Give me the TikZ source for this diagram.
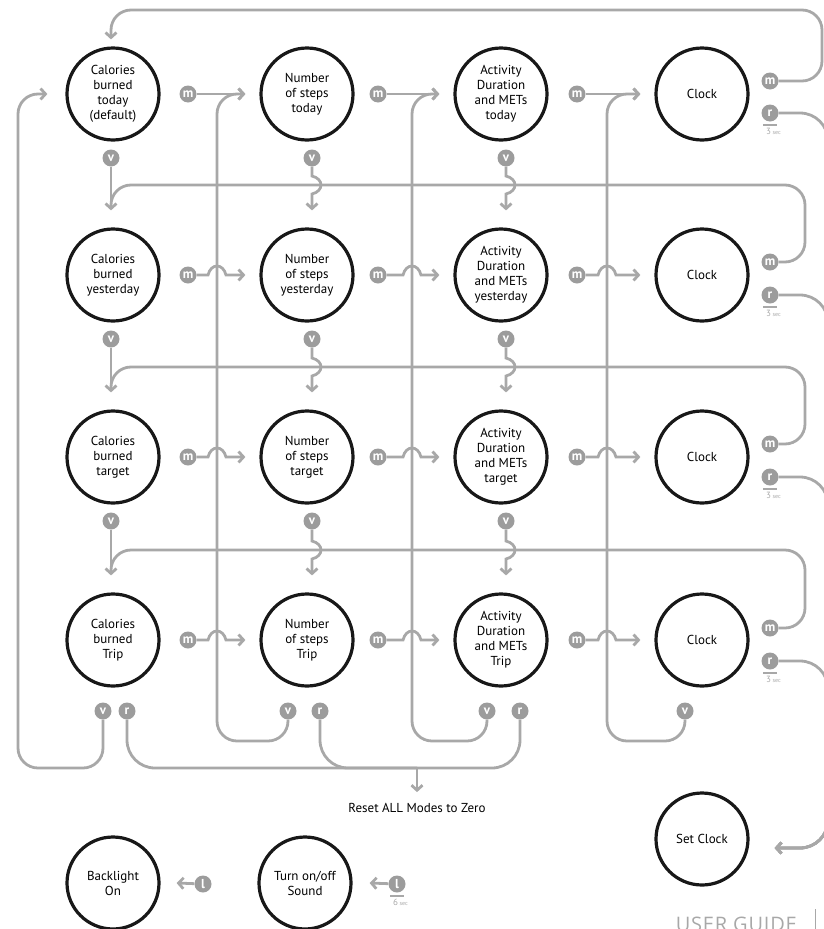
\documentclass[tikz,border=0pt]{standalone}
\usepackage{fontspec}
\setmainfont{PT Sans}
\newfontfamily\guidefont[LetterSpace=4]{Open Sans}
\usetikzlibrary{arrows.meta, positioning, calc}
\definecolor{cLine}{RGB}{168,168,168}
\definecolor{cBadge}{RGB}{156,156,156}
\definecolor{cRing}{RGB}{24,24,24}
\tikzset{
	mode/.style     ={circle, draw=cRing, line width=3.2pt, minimum size=92pt, inner sep=0pt, align=center, font=\fontsize{13}{15}\selectfont},
	badge/.style    ={circle, fill=cBadge, minimum size=17pt, inner sep=0pt, text=white, font=\fontsize{13}{13}\selectfont\bfseries},
	link/.style     ={draw=cLine, line width=2.8pt, rounded corners=20pt},
	linkarrow/.style={link, -{Straight Barb[length=5pt, width=11pt]}},
	rowarrow/.style ={draw=cLine, line width=2.8pt, -{Straight Barb[length=5pt, width=11pt]}},
	timer/.style    ={text=cLine, inner sep=0pt, font=\fontsize{9}{9}\selectfont},
	timerbar/.style ={draw=cLine, line width=1.2pt},
	hhop/.style     ={insert path={-- ($(#1)+(-9,0)$) .. controls ($(#1)+(-6,-12)$) and ($(#1)+(6,-12)$) .. ($(#1)+(9,0)$)}},
	vhop/.style     ={insert path={-- ($(#1)+(0,-9)$) .. controls ($(#1)+(12,-6)$) and ($(#1)+(12,6)$) .. ($(#1)+(0,9)$)}},
}
\begin{document}
\begin{tikzpicture}[x=1pt, y=-1pt]
	\useasboundingbox (0,0) rectangle (824,929);
	\clip (0,0) rectangle (824,929);
	\coordinate (lane0) at (18,0); \coordinate (lane1) at (217,0); \coordinate (lane2) at (412,0); \coordinate (lane3) at (607,0);
	\coordinate (topbus) at (0,10); \coordinate (ret2) at (0,185); \coordinate (ret3) at (0,367); \coordinate (ret4) at (0,550);
	\coordinate (loopbus) at (0,741); \coordinate (resetbus) at (417,768);
	\coordinate (mbus) at (805,0); \coordinate (mbustop) at (822,0); \coordinate (setbus) at (828,0);
	% modes
	\node[mode] (cal1)   at (113,94)  {Calories\\burned\\today\\(default)};
	\node[mode] (steps1) at (307,94)  {Number\\of steps\\today};
	\node[mode] (act1)   at (501,94)  {Activity\\Duration\\and METs\\today};
	\node[mode] (clock1) at (702,94)  {Clock};
	\node[mode] (cal2)   at (113,275) {Calories\\burned\\yesterday};
	\node[mode] (steps2) at (307,275) {Number\\of steps\\yesterday};
	\node[mode] (act2)   at (501,275) {Activity\\Duration\\and METs\\yesterday};
	\node[mode] (clock2) at (702,275) {Clock};
	\node[mode] (cal3)   at (113,457) {Calories\\burned\\target};
	\node[mode] (steps3) at (307,457) {Number\\of steps\\target};
	\node[mode] (act3)   at (501,457) {Activity\\Duration\\and METs\\target};
	\node[mode] (clock3) at (702,457) {Clock};
	\node[mode] (cal4)   at (113,640) {Calories\\burned\\Trip};
	\node[mode] (steps4) at (307,640) {Number\\of steps\\Trip};
	\node[mode] (act4)   at (501,640) {Activity\\Duration\\and METs\\Trip};
	\node[mode] (clock4) at (702,640) {Clock};
	\node[mode] (setclock)  at (702,839) {Set Clock};
	\node[mode] (backlight) at (113,883) {Backlight\\On};
	\node[mode] (sound)     at (305,883) {Turn on/off\\Sound};
	\node[inner sep=0pt, font=\fontsize{13}{15}\selectfont] (reset) at (417,808) {Reset ALL Modes to Zero};
	\coordinate (setin) at ([xshift=25pt, yshift=-9pt]setclock.east);
	% buttons
	\node[badge] (mcal1) at (188,94) {m}; \node[badge] (msteps1) at (378,94) {m}; \node[badge] (mact1) at (577,94) {m};
	\node[badge] (mcal2) at (188,275) {m}; \node[badge] (msteps2) at (378,275) {m}; \node[badge] (mact2) at (577,275) {m};
	\node[badge] (mcal3) at (188,457) {m}; \node[badge] (msteps3) at (378,457) {m}; \node[badge] (mact3) at (577,457) {m};
	\node[badge] (mcal4) at (188,640) {m}; \node[badge] (msteps4) at (378,640) {m}; \node[badge] (mact4) at (577,640) {m};
	\node[badge] (mclock1) at (770,81) {m};  \node[badge] (rclock1) at (770,113) {r};
	\node[badge] (mclock2) at (770,262) {m}; \node[badge] (rclock2) at (770,295) {r};
	\node[badge] (mclock3) at (770,444) {m}; \node[badge] (rclock3) at (770,477) {r};
	\node[badge] (mclock4) at (770,628) {m}; \node[badge] (rclock4) at (770,661) {r};
	\node[badge] (vcal1) at (111,158) {v}; \node[badge] (vsteps1) at (312,158) {v}; \node[badge] (vact1) at (506,158) {v};
	\node[badge] (vcal2) at (111,339) {v}; \node[badge] (vsteps2) at (312,339) {v}; \node[badge] (vact2) at (506,339) {v};
	\node[badge] (vcal3) at (111,521) {v}; \node[badge] (vsteps3) at (312,521) {v}; \node[badge] (vact3) at (506,521) {v};
	\node[badge] (vcal4) at (103,711) {v}; \node[badge] (rcal4) at (127,711) {r};
	\node[badge] (vsteps4) at (288,711) {v}; \node[badge] (rsteps4) at (320,711) {r};
	\node[badge] (vact4) at (487,711) {v}; \node[badge] (ract4) at (520,711) {r};
	\node[badge] (vclock4) at (685,711) {v};
	\node[badge] (lback) at (203,884) {l}; \node[badge] (lsound) at (397,884) {l};
	% hold times
	\foreach \k in {1,2,3,4} {
		\draw[timerbar] ([xshift=-7pt, yshift=-12pt]rclock\k.center) -- ++(14,0);
		\node[timer, anchor=north west] (t\k) at ([xshift=-4pt, yshift=-14.5pt]rclock\k.center) {3\,{\fontsize{6}{6}\selectfont sec}};
	}
	\draw[timerbar] ([xshift=-7pt, yshift=-12pt]lsound.center) -- ++(14,0);
	\node[timer, anchor=north west] (t6) at ([xshift=-4pt, yshift=-14.5pt]lsound.center) {6\,{\fontsize{6}{6}\selectfont sec}};
	% m: next mode
	\draw[rowarrow] (mcal1) -- ([xshift=-14pt]steps1.west); \draw[rowarrow] (msteps1) -- ([xshift=-14pt]act1.west); \draw[rowarrow] (mact1) -- ([xshift=-14pt]clock1.west);
	\draw[rowarrow] (mcal2) [hhop={lane1 |- mcal2}] -- ([xshift=-14pt]steps2.west); \draw[rowarrow] (msteps2) [hhop={lane2 |- msteps2}] -- ([xshift=-14pt]act2.west); \draw[rowarrow] (mact2) [hhop={lane3 |- mact2}] -- ([xshift=-14pt]clock2.west);
	\draw[rowarrow] (mcal3) [hhop={lane1 |- mcal3}] -- ([xshift=-14pt]steps3.west); \draw[rowarrow] (msteps3) [hhop={lane2 |- msteps3}] -- ([xshift=-14pt]act3.west); \draw[rowarrow] (mact3) [hhop={lane3 |- mact3}] -- ([xshift=-14pt]clock3.west);
	\draw[rowarrow] (mcal4) [hhop={lane1 |- mcal4}] -- ([xshift=-14pt]steps4.west); \draw[rowarrow] (msteps4) [hhop={lane2 |- msteps4}] -- ([xshift=-14pt]act4.west); \draw[rowarrow] (mact4) [hhop={lane3 |- mact4}] -- ([xshift=-14pt]clock4.west);
	\draw[linkarrow] (mclock1) -- (mclock1 -| mbustop) -- (mbustop |- topbus) -- (vcal1 |- topbus) -- ([yshift=7pt]vcal1 |- cal1.north);
	\draw[link] (mclock2) -- (mclock2 -| mbus) -- (mbus |- ret2) -- (vcal1 |- ret2) -- ([yshift=20pt]vcal1 |- cal2.north);
	\draw[link] (mclock3) -- (mclock3 -| mbus) -- (mbus |- ret3) -- (vcal2 |- ret3) -- ([yshift=20pt]vcal2 |- cal3.north);
	\draw[link] (mclock4) -- (mclock4 -| mbus) -- (mbus |- ret4) -- (vcal3 |- ret4) -- ([yshift=20pt]vcal3 |- cal4.north);
	% v: next row
	\draw[rowarrow] (vcal1) -- ([yshift=17pt]vcal1 |- cal2.north); \draw[rowarrow] (vsteps1) [vhop={vsteps1 |- ret2}] -- ([yshift=17pt]vsteps1 |- steps2.north); \draw[rowarrow] (vact1) [vhop={vact1 |- ret2}] -- ([yshift=17pt]vact1 |- act2.north);
	\draw[rowarrow] (vcal2) -- ([yshift=17pt]vcal2 |- cal3.north); \draw[rowarrow] (vsteps2) [vhop={vsteps2 |- ret3}] -- ([yshift=17pt]vsteps2 |- steps3.north); \draw[rowarrow] (vact2) [vhop={vact2 |- ret3}] -- ([yshift=17pt]vact2 |- act3.north);
	\draw[rowarrow] (vcal3) -- ([yshift=17pt]vcal3 |- cal4.north); \draw[rowarrow] (vsteps3) [vhop={vsteps3 |- ret4}] -- ([yshift=17pt]vsteps3 |- steps4.north); \draw[rowarrow] (vact3) [vhop={vact3 |- ret4}] -- ([yshift=17pt]vact3 |- act4.north);
	\draw[linkarrow] (vcal4) -- (vcal4 |- resetbus) -- (lane0 |- resetbus) -- (lane0 |- cal1) -- ([xshift=-18pt]cal1.west);
	\draw[linkarrow] (vsteps4) -- (vsteps4 |- loopbus) -- (lane1 |- loopbus) -- (lane1 |- steps1) -- ([xshift=-14pt]steps1.west);
	\draw[linkarrow] (vact4) -- (vact4 |- loopbus) -- (lane2 |- loopbus) -- (lane2 |- act1) -- ([xshift=-14pt]act1.west);
	\draw[linkarrow] (vclock4) -- (vclock4 |- loopbus) -- (lane3 |- loopbus) -- (lane3 |- clock1) -- ([xshift=-14pt]clock1.west);
	% r: reset and set clock
	\draw[link, rounded corners=28pt] (rcal4) -- (rcal4 |- resetbus) -- (resetbus); \draw[link, rounded corners=28pt] (rsteps4) -- (rsteps4 |- resetbus) -- (resetbus); \draw[link, rounded corners=28pt] (ract4) -- (ract4 |- resetbus) -- (resetbus);
	\draw[rowarrow] (resetbus) -- ([yshift=11pt]reset.north);
	\draw[linkarrow, rounded corners=28pt] (rclock1) -- (rclock1 -| setbus) -- (setbus |- setin) -- (setin);
	\draw[linkarrow, rounded corners=28pt] (rclock2) -- (rclock2 -| setbus) -- (setbus |- setin) -- (setin);
	\draw[linkarrow, rounded corners=28pt] (rclock3) -- (rclock3 -| setbus) -- (setbus |- setin) -- (setin);
	\draw[linkarrow, rounded corners=28pt] (rclock4) -- (rclock4 -| setbus) -- (setbus |- setin) -- (setin);
	% l: light and sound
	\draw[rowarrow] (lback) -- ([xshift=16pt]backlight.east); \draw[rowarrow] (lsound) -- ([xshift=17pt]sound.east);
	\node[anchor=base east, inner sep=0pt, text=cLine, font=\guidefont\fontsize{20}{20}\selectfont] (guide) at (797,931) {USER GUIDE};
	\draw[cLine, line width=1pt] (815,909) -- (815,935);
\end{tikzpicture}
\end{document}
